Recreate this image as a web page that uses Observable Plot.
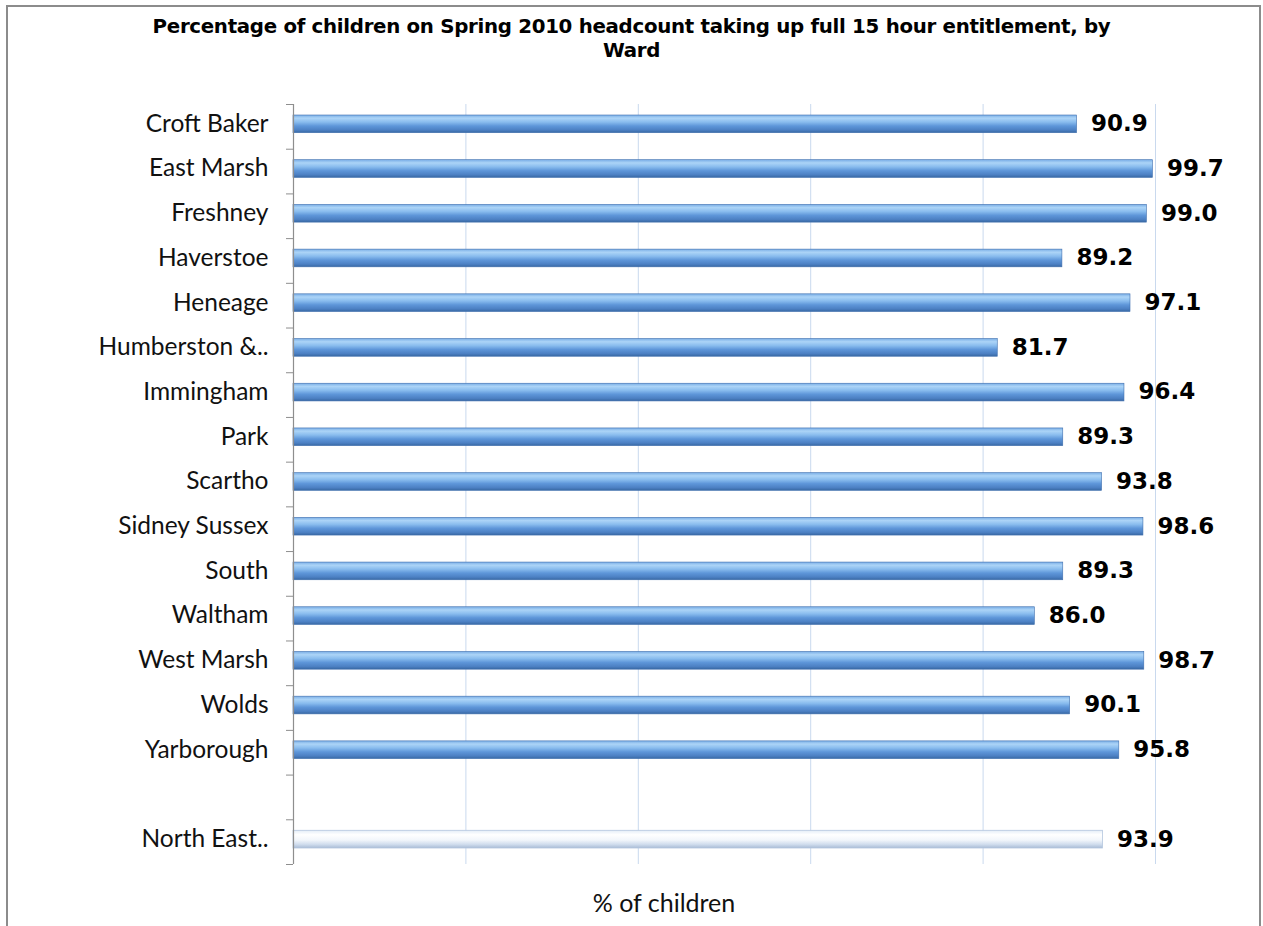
<!DOCTYPE html>
<html>
<head>
<meta charset="utf-8">
<script src="https://cdn.jsdelivr.net/npm/d3@7"></script>
<script src="https://cdn.jsdelivr.net/npm/@observablehq/plot@0.6"></script>
<style>
  body { margin: 0; background: #fff; font-family: Lato, "Open Sans", sans-serif; color: #111; }
  #page { position: relative; width: 1263px; height: 926px; overflow: hidden; background: #fff; }
  #frame { position: absolute; left: 6px; top: 5px; width: 1251px; height: 960px; border: 2px solid #8c8c8c; border-bottom: none; }
  #title { position: absolute; top: 15px; left: 0; width: 1263px; text-align: center; font-family: "DejaVu Sans", sans-serif; font-weight: bold; font-size: 19.8px; line-height: 24px; color: #000; letter-spacing: -0.3px; }
  #chart { position: absolute; left: 0; top: 95px; }
  #xlabel { position: absolute; top: 887px; left: 514px; width: 300px; text-align: center; font-size: 25px; line-height: 30px; color: #111; }
</style>
</head>
<body>
<div id="page">
  <div id="frame"></div>
  <div id="title">Percentage of children on Spring 2010 headcount taking up full 15 hour entitlement, by<br>Ward</div>
  <div id="chart"></div>
  <div id="xlabel">% of children</div>
</div>
<script>
// Wards and their take-up of the full 15 hour entitlement (%)
const wards = [
  "Croft Baker", "East Marsh", "Freshney", "Haverstoe", "Heneage",
  "Humberston &..", "Immingham", "Park", "Scartho", "Sidney Sussex",
  "South", "Waltham", "West Marsh", "Wolds", "Yarborough"
];
const takeUp = [90.9, 99.7, 99.0, 89.2, 97.1, 81.7, 96.4, 89.3, 93.8, 98.6, 89.3, 86.0, 98.7, 90.1, 95.8];

// Area-wide comparator, shown after a blank row
const comparator = "North East..";
const comparatorValue = 93.9;

const gridValues = [20, 40, 60, 80, 100];

const wardRows = wards.map((ward, i) => ({ward, value: takeUp[i]}));
const comparatorRows = [{ward: comparator, value: comparatorValue}];
const yDomain = [...wards, " ", comparator];

const plotTop = 9, plotBottom = 16, svgHeight = 785;
const band = (svgHeight - plotTop - plotBottom) / yDomain.length;

const chart = Plot.plot({
  width: 1263,
  height: svgHeight,
  marginLeft: 293,
  marginRight: 108,
  marginTop: plotTop,
  marginBottom: plotBottom,
  style: {fontFamily: "Lato, 'Open Sans', sans-serif", color: "#111", background: "transparent"},
  x: {domain: [0, 100], axis: null},
  y: {domain: yDomain, padding: 0, round: false, axis: null},
  marks: [
    Plot.ruleX(gridValues, {stroke: "#c9d9ee", strokeWidth: 1}),
    Plot.barX(wardRows, {x: "value", y: "ward", fill: "url(#wardFill)", stroke: "#3f6fae", strokeWidth: 0.6, insetTop: 11, insetBottom: 16, ariaLabel: "ward bars"}),
    Plot.barX(comparatorRows, {x: "value", y: "ward", fill: "url(#areaFill)", stroke: "#b3c6de", strokeWidth: 0.8, insetTop: 11, insetBottom: 16, ariaLabel: "area bar"}),
    Plot.ruleX([0], {stroke: "#8e8e8e", strokeWidth: 1.2}),
    Plot.axisY({tickSize: 7, stroke: "#8e8e8e", dy: -band / 2, tickFormat: () => "", label: null}),
    Plot.axisY([comparator], {tickSize: 7, stroke: "#8e8e8e", dy: band / 2, tickFormat: () => "", label: null}),
    Plot.axisY({tickSize: 0, tickPadding: 25, fontSize: 24.5, fill: "#111", dy: -3, label: null}),
    Plot.text([...wardRows, ...comparatorRows], {
      x: "value", y: "ward", text: d => d.value.toFixed(1),
      textAnchor: "start", dx: 14, dy: -3, fontSize: 23, fontWeight: "bold",
      fontFamily: "'DejaVu Sans', sans-serif", fill: "#000"
    })
  ]
});

// Gradients for the rounded bar look and a soft shadow beneath each bar
d3.select(chart).insert("defs", ":first-child").html(`
  <linearGradient id="wardFill" x1="0" y1="0" x2="0" y2="1">
    <stop offset="0" stop-color="#7aaee6"/>
    <stop offset="0.18" stop-color="#acd4f7"/>
    <stop offset="0.4" stop-color="#89bcee"/>
    <stop offset="0.62" stop-color="#5e96d9"/>
    <stop offset="0.85" stop-color="#4c80c3"/>
    <stop offset="1" stop-color="#3868a3"/>
  </linearGradient>
  <linearGradient id="areaFill" x1="0" y1="0" x2="0" y2="1">
    <stop offset="0" stop-color="#e4edf7"/>
    <stop offset="0.25" stop-color="#ffffff"/>
    <stop offset="0.55" stop-color="#f2f6fb"/>
    <stop offset="0.8" stop-color="#cfdced"/>
    <stop offset="1" stop-color="#a9bcd6"/>
  </linearGradient>
  <filter id="barShadow" x="-5%" y="-40%" width="110%" height="200%">
    <feGaussianBlur in="SourceAlpha" stdDeviation="2"/>
    <feOffset dx="1" dy="3" result="off"/>
    <feComponentTransfer><feFuncA type="linear" slope="0.35"/></feComponentTransfer>
    <feMerge><feMergeNode/><feMergeNode in="SourceGraphic"/></feMerge>
  </filter>
`);
d3.select(chart).selectAll('g[aria-label="ward bars"], g[aria-label="area bar"]').attr("filter", "url(#barShadow)");

document.getElementById("chart").appendChild(chart);
</script>
</body>
</html>
